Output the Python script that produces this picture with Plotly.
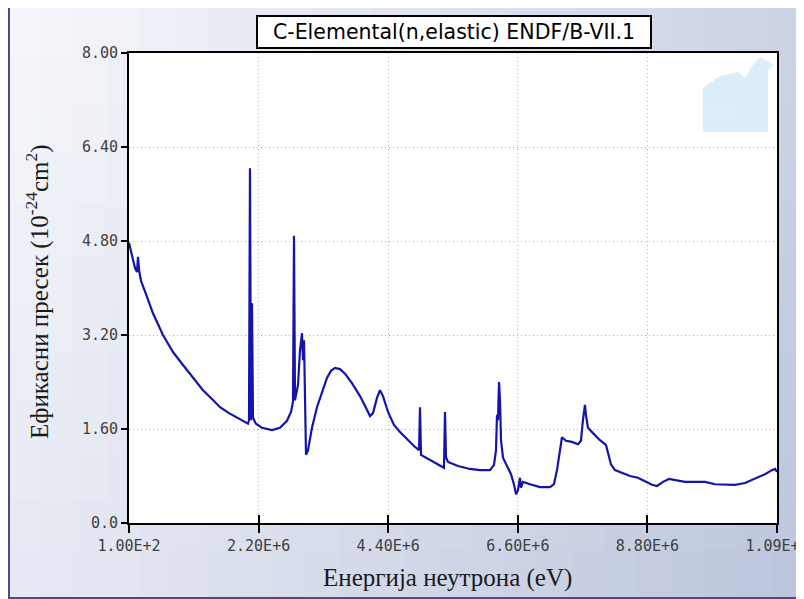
import plotly.graph_objects as go

# ---------------- data ----------------
energy_mev = [0.0001, 0.051, 0.102, 0.136, 0.153, 0.170, 0.204, 0.306, 0.407, 0.577,
              0.747, 0.917, 1.086, 1.256, 1.409, 1.545, 1.698, 1.833, 2.020, 2.037,
              2.054, 2.071, 2.088, 2.105, 2.156, 2.258, 2.427, 2.563, 2.682, 2.750,
              2.784, 2.801, 2.818, 2.869, 2.903, 2.937, 2.954, 2.971, 2.988, 3.005,
              3.039, 3.106, 3.191, 3.276, 3.361, 3.429, 3.497, 3.582, 3.667, 3.785,
              3.921, 4.023, 4.091, 4.142, 4.210, 4.261, 4.312, 4.397, 4.498, 4.600,
              4.736, 4.838, 4.923, 4.940, 4.957, 5.110, 5.245, 5.347, 5.364, 5.381,
              5.415, 5.585, 5.788, 5.958, 6.128, 6.196, 6.230, 6.247, 6.264, 6.281,
              6.298, 6.315, 6.349, 6.417, 6.485, 6.536, 6.570, 6.603, 6.637, 6.654,
              6.688, 6.807, 6.977, 7.146, 7.214, 7.265, 7.316, 7.350, 7.418, 7.520,
              7.622, 7.672, 7.706, 7.740, 7.757, 7.791, 7.876, 7.995, 8.097, 8.131,
              8.182, 8.250, 8.369, 8.505, 8.640, 8.759, 8.878, 8.963, 9.065, 9.166,
              9.285, 9.438, 9.608, 9.777, 9.947, 10.117, 10.286, 10.456, 10.626, 10.796,
              10.915, 10.966, 11.000]
cross_section = [4.77, 4.56, 4.34, 4.27, 4.53, 4.31, 4.12, 3.85, 3.57, 3.20,
                 2.91, 2.69, 2.47, 2.26, 2.11, 1.97, 1.87, 1.79, 1.69, 1.75,
                 6.04, 1.75, 3.74, 1.79, 1.69, 1.62, 1.58, 1.62, 1.74, 1.89,
                 2.06, 4.89, 2.09, 2.35, 2.94, 3.23, 2.77, 3.11, 1.67, 1.16,
                 1.24, 1.62, 1.97, 2.23, 2.47, 2.59, 2.64, 2.62, 2.54, 2.38,
                 2.16, 1.96, 1.82, 1.87, 2.13, 2.26, 2.16, 1.89, 1.67, 1.55,
                 1.41, 1.31, 1.24, 1.97, 1.16, 1.07, 0.99, 0.94, 1.89, 1.12,
                 1.04, 0.97, 0.92, 0.90, 0.90, 0.99, 1.24, 1.84, 1.75, 2.40,
                 2.09, 1.41, 1.11, 0.97, 0.83, 0.65, 0.49, 0.56, 0.77, 0.60,
                 0.70, 0.66, 0.61, 0.61, 0.66, 0.90, 1.24, 1.46, 1.40, 1.38,
                 1.34, 1.40, 1.75, 2.01, 1.84, 1.62, 1.53, 1.41, 1.33, 1.21,
                 1.00, 0.90, 0.85, 0.80, 0.77, 0.71, 0.65, 0.63, 0.70, 0.75,
                 0.73, 0.70, 0.70, 0.70, 0.66, 0.65, 0.65, 0.68, 0.75, 0.83,
                 0.90, 0.92, 0.87]
energy_ev = [e * 1e6 for e in energy_mev]

x_tickvals = [100, 2.2e6, 4.4e6, 6.6e6, 8.8e6, 1.1e7]
x_ticktext = ["1.00E+2", "2.20E+6", "4.40E+6", "6.60E+6", "8.80E+6", "1.09E+7"]
y_tickvals = [0, 1.6, 3.2, 4.8, 6.4, 8.0]
y_ticktext = ["0.0", "1.60", "3.20", "4.80", "6.40", "8.00"]

title_text = "C-Elemental(n,elastic) ENDF/B-VII.1"
x_title = "Енергија неутрона (eV)"
y_title = "Ефикасни пресек (10<sup>-24</sup>cm<sup>2</sup>)"

# ---------------- layout geometry ----------------
# page body has an 8px margin, so the figure is placed at (8, 8) in the window
OFF = 8
W, H = 796, 591
PLOT_L, PLOT_R, PLOT_T, PLOT_B = 129, 777, 53, 523   # window pixel coords
L = PLOT_L - OFF
T = PLOT_T - OFF
R = W - (PLOT_R - OFF)
B = H - (PLOT_B - OFF)
PW, PH = PLOT_R - PLOT_L, PLOT_B - PLOT_T
X_RANGE = [100, 1.1e7 * 1.000001]


def px(xw):
    return (xw - PLOT_L) / PW


def py(yw):
    return (PLOT_B - yw) / PH


def lerp(a, b, t):
    return int(round(a + (b - a) * t))


c0 = (247, 248, 252)
c1 = (188, 197, 220)
shapes = []
NX, NY = 24, 12
X0, X1, Y0, Y1 = 8, 804, 8, 599
for i in range(NX):
    for j in range(NY):
        x0w = X0 + i * (X1 - X0) / NX
        x1w = X0 + (i + 1) * (X1 - X0) / NX
        y0w = Y0 + j * (Y1 - Y0) / NY
        y1w = Y0 + (j + 1) * (Y1 - Y0) / NY
        t = 0.72 * ((x0w + x1w) / 2 / 804) + 0.28 * ((y0w + y1w) / 2 / 599)
        col = "rgb(%d,%d,%d)" % tuple(lerp(c0[k], c1[k], t) for k in range(3))
        shapes.append(dict(type="rect", xref="paper", yref="paper", layer="below",
                           x0=px(x0w - 0.5), x1=px(x1w + 0.5), y0=py(y1w + 0.5), y1=py(y0w - 0.5),
                           fillcolor=col, line=dict(width=0)))
# white plot area
shapes.append(dict(type="rect", xref="paper", yref="paper", layer="below",
                   x0=0, x1=1, y0=0, y1=1, fillcolor="white", line=dict(width=0)))
# NNDC watermark (decorative)
pts = [(703, 132), (703, 88), (720, 76), (738, 72), (745, 78), (752, 66), (760, 57),
       (774, 65), (768, 70), (768, 132)]
path = "M " + " L ".join("%f,%f" % (px(a), py(b)) for a, b in pts) + " Z"
shapes.append(dict(type="path", xref="paper", yref="paper", layer="below", path=path,
                   fillcolor="rgba(205,229,248,0.7)", line=dict(width=0)))
# strip right of the frame hiding overflow of the last tick label
shapes.append(dict(type="rect", xref="paper", yref="paper", layer="above",
                   x0=px(800), x1=px(806), y0=py(601), y1=py(-2),
                   fillcolor="rgb(205,212,230)", line=dict(width=0)))
# outer frame
shapes.append(dict(type="rect", xref="paper", yref="paper", layer="above",
                   x0=px(9), x1=px(800), y0=py(598), y1=py(6),
                   fillcolor="rgba(0,0,0,0)", line=dict(color="#4d4a86", width=2)))

fig = go.Figure()
fig.add_trace(go.Scatter(x=energy_ev, y=cross_section, mode="lines",
                         line=dict(color="#1414aa", width=2.2), showlegend=False,
                         hoverinfo="x+y"))
# invisible helper trace so the inner-tick overlay axis is drawn
fig.add_trace(go.Scatter(x=[x_tickvals[0]], y=[y_tickvals[0]], xaxis="x2", yaxis="y",
                         mode="markers", marker=dict(opacity=0), showlegend=False,
                         hoverinfo="skip"))

tick_font = dict(family="DejaVu Sans Mono", size=15, color="#404040")
axis_common = dict(showline=True, linecolor="black", linewidth=2, mirror=True,
                   ticks="outside", tickcolor="black", tickwidth=2,
                   showgrid=True, gridcolor="#b0b0b0", gridwidth=1, griddash="1px,3px",
                   zeroline=False, tickfont=tick_font, automargin=False)

fig.update_layout(
    width=W, height=H,
    margin=dict(l=L, r=R, t=T, b=B, pad=0, autoexpand=False),
    paper_bgcolor="rgb(220,225,238)",
    plot_bgcolor="white",
    shapes=shapes,
    xaxis=dict(range=X_RANGE, tickmode="array", tickvals=x_tickvals,
               ticktext=x_ticktext, ticklen=8, ticklabeloverflow="allow", **axis_common),
    xaxis2=dict(range=X_RANGE, overlaying="x", side="bottom", tickmode="array",
                tickvals=x_tickvals, ticks="inside", ticklen=8, tickwidth=2,
                tickcolor="black", showticklabels=False, showgrid=False,
                showline=False, zeroline=False, automargin=False),
    yaxis=dict(range=[0, 8], tickmode="array", tickvals=y_tickvals,
               ticktext=y_ticktext, ticklen=6, **axis_common),
    annotations=[
        dict(text=title_text, xref="paper", yref="paper", x=px(454), y=py(31.5),
             xanchor="center", yanchor="middle", showarrow=False,
             font=dict(family="DejaVu Sans", size=20.5, color="black"),
             bgcolor="white", bordercolor="black", borderwidth=2, borderpad=3,
             width=386, height=24),
        dict(text="NNDC", xref="paper", yref="paper", x=px(736), y=py(106),
             showarrow=False, font=dict(family="Liberation Serif", size=11,
                                         color="rgba(235,242,250,0.9)")),
        dict(text=x_title, xref="paper", yref="paper", x=px(447), y=py(578),
             xanchor="center", yanchor="middle", showarrow=False,
             font=dict(family="Liberation Serif", size=25, color="#1a1a1a")),
        dict(text=y_title, xref="paper", yref="paper", x=px(37), y=py(292),
             xanchor="center", yanchor="middle", showarrow=False, textangle=-90,
             font=dict(family="Liberation Serif", size=25, color="#1a1a1a")),
    ],
)

fig.write_html("out.html")
